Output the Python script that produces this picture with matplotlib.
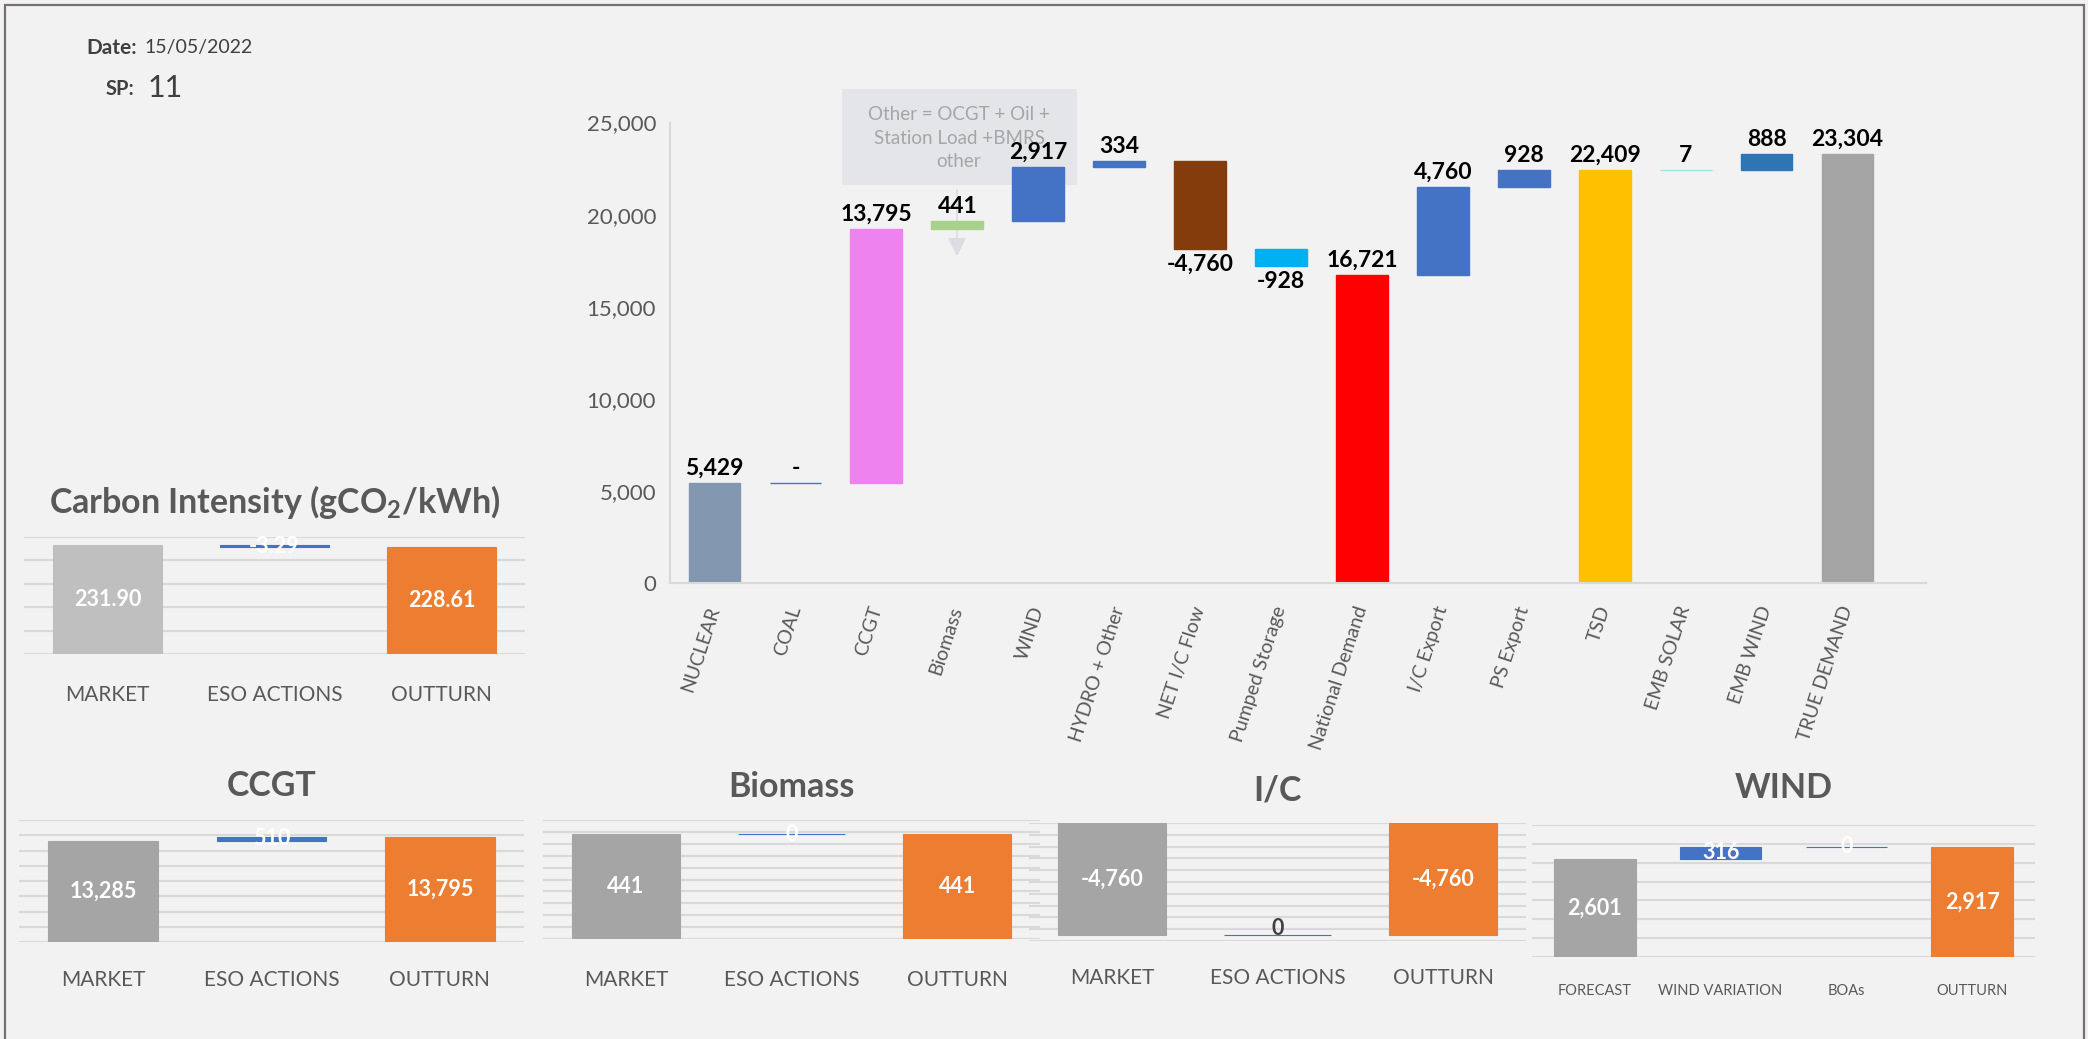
import numpy as np
import matplotlib
matplotlib.use('Agg')
from matplotlib import pyplot as plt
from matplotlib.patches import Rectangle, FancyArrowPatch

plt.rcParams['font.family'] = ['Lato', 'DejaVu Sans']
plt.rcParams['mathtext.default'] = 'regular'

# Datos del waterfall principal (MW)
wf_cats = ['NUCLEAR', 'COAL', 'CCGT', 'Biomass', 'WIND', 'HYDRO + Other', 'NET I/C Flow',
           'Pumped Storage', 'National Demand', 'I/C Export', 'PS Export', 'TSD',
           'EMB SOLAR', 'EMB WIND', 'TRUE DEMAND']
wf_values = [5429, 0, 13795, 441, 2917, 334, -4760, -928, 16721, 4760, 928, 22409, 7, 888, 23304]
wf_totals = ['National Demand', 'TSD', 'TRUE DEMAND']
wf_colors = ['#8497B0', '#4472C4', '#EE82EE', '#A9D18E', '#4472C4', '#4472C4', '#843C0C',
             '#00B0F0', '#FF0000', '#4472C4', '#4472C4', '#FFC000', '#99E6E6', '#2E75B6', '#A5A5A5']

# Paneles pequenos
eso_cats = ['MARKET', 'ESO ACTIONS', 'OUTTURN']
carbon_values = [231.90, -3.29, 228.61]
ccgt_values = [13285, 510, 13795]
biomass_values = [441, 0, 441]
ic_values = [-4760, 0, -4760]
wind_cats = ['FORECAST', 'WIND VARIATION', 'BOAs', 'OUTTURN']
wind_values = [2601, 316, 0, 2917]

date_str = '15/05/2022'
sp_str = '11'

W, H = 2088, 1039
fig = plt.figure(figsize=(W / 100, H / 100), dpi=100, facecolor='#F2F2F2')
GREY_TXT = '#595959'


def px_axes(x0, y0, x1, y1):
    # ejes en coordenadas de pixel (origen arriba a la izquierda)
    return fig.add_axes([x0 / W, 1 - y1 / H, (x1 - x0) / W, (y1 - y0) / H])


# marco
fig.patches.append(Rectangle((5 / W, -0.02), (2084 - 5) / W, 1.02 - 5 / H, transform=fig.transFigure,
                             fill=False, edgecolor='#767171', linewidth=1.6))

# Fecha y SP
fig.text(137 / W, 1 - 48 / H, 'Date:', ha='right', va='center', fontsize=15, fontweight='bold', color='#404040')
fig.text(144 / W, 1 - 48 / H, date_str, ha='left', va='center', fontsize=14, color='#404040')
fig.text(134 / W, 1 - 89 / H, 'SP:', ha='right', va='center', fontsize=14.5, fontweight='bold', color='#404040')
fig.text(148 / W, 1 - 88 / H, sp_str, ha='left', va='center', fontsize=22, color='#404040')

# ---------------- waterfall principal ----------------
ax = px_axes(670, 122.5, 1926, 583)
ax.set_facecolor('none')
x = np.arange(len(wf_cats))
running = 0
bottoms = []
heights = []
for cat, v in zip(wf_cats, wf_values):
    if cat in wf_totals:
        bottoms.append(0)
        running = v
    else:
        bottoms.append(running)
        running += v
    heights.append(v)

ax.bar(x, heights, bottom=bottoms, width=0.64, color=wf_colors, edgecolor=wf_colors, linewidth=1, zorder=2)

for i, (b, h, v) in enumerate(zip(bottoms, heights, wf_values)):
    txt = '-' if v == 0 else f'{v:,}'
    if v < 0:
        ax.annotate(txt, (i, b + h), xytext=(0, -4), textcoords='offset points', ha='center', va='top',
                    fontsize=16.5, fontweight='bold', color='black', zorder=4)
    else:
        ax.annotate(txt, (i, b + h), xytext=(0, 3), textcoords='offset points', ha='center', va='bottom',
                    fontsize=16.5, fontweight='bold', color='black', zorder=4)

ax.set_xlim(-0.55, 14.97)
ax.set_ylim(0, 25000)
ax.set_yticks(np.arange(0, 25001, 5000))
ax.set_yticklabels([f'{t:,}' for t in range(0, 25001, 5000)], fontsize=16, color=GREY_TXT)
ax.set_xticks(x)
ax.set_xticklabels(wf_cats, rotation=72, ha='right', va='center', rotation_mode='anchor',
                   fontsize=14, color=GREY_TXT)
ax.tick_params(axis='y', length=0, pad=10)
ax.tick_params(axis='x', length=0, pad=17)
for s in ['top', 'right']:
    ax.spines[s].set_visible(False)
for s in ['left', 'bottom']:
    ax.spines[s].set_color('#D9D9D9')
    ax.spines[s].set_linewidth(1.5)

# caja de nota "Other" y flecha
ax.add_patch(Rectangle((842 / W, 1 - 185 / H), (1077 - 842) / W, (185 - 89) / H, transform=fig.transFigure,
                       facecolor='#E4E5E9', edgecolor='none', zorder=1, clip_on=False))
ax.text(959 / W, 1 - 138 / H, 'Other = OCGT + Oil +\nStation Load +BMRS\nother', transform=fig.transFigure,
        ha='center', va='center', fontsize=13.5, color='#A6A6A6', linespacing=1.45, zorder=1.5)
ax.add_patch(FancyArrowPatch((957 / W, 1 - 187 / H), (957 / W, 1 - 259 / H), transform=fig.transFigure,
                             arrowstyle='-|>', mutation_scale=28, color='#DCDDE2', linewidth=1.2,
                             zorder=1, clip_on=False))


# ---------------- paneles pequenos ----------------
def panel(rect, title, title_y, cats, vals, ylim, step, fmt, first_color='#A5A5A5',
          label_size=15, label_gap=34, dark_zero=False):
    pax = px_axes(*rect)
    pax.set_facecolor('none')
    n = len(vals)
    px = np.arange(n)
    bots = []
    hts = []
    cols = []
    run = vals[0]
    for i, v in enumerate(vals):
        if i == 0:
            bots.append(0)
            cols.append(first_color)
        elif i == n - 1:
            bots.append(0)
            cols.append('#ED7D31')
        else:
            bots.append(run)
            run += v
            cols.append('#4472C4')
        hts.append(v)
    pax.bar(px, hts, bottom=bots, width=0.65, color=cols, edgecolor=cols, linewidth=0.8, zorder=2)
    for i, (b, h, v) in enumerate(zip(bots, hts, vals)):
        if dark_zero and v == 0:
            pax.text(i, b + h, fmt(v), ha='center', va='baseline', fontsize=15.5, fontweight='bold',
                     color='#404040', zorder=3)
        else:
            pax.text(i, b + h / 2, fmt(v), ha='center', va='center', fontsize=15.5, fontweight='bold',
                     color='white', zorder=3)
    pax.set_xlim(-0.5, n - 0.5)
    pax.set_ylim(*ylim)
    pax.set_yticks(np.arange(ylim[0], ylim[1] + step / 2, step))
    pax.yaxis.grid(True, color='#D9D9D9', linewidth=1.5)
    pax.set_axisbelow(True)
    for s in pax.spines.values():
        s.set_visible(False)
    pax.tick_params(left=False, labelleft=False, bottom=False, pad=label_gap * 0.72)
    pax.set_xticks(px)
    pax.set_xticklabels(cats, fontsize=label_size, color=GREY_TXT)
    plt.setp(pax.get_xticklabels(), va='center')
    xc = (rect[0] + rect[2]) / 2
    fig.text(xc / W, 1 - title_y / H, title, ha='center', va='center', fontsize=24.5,
             fontweight='bold', color=GREY_TXT)
    return pax


panel((24, 537, 525, 654), r'Carbon Intensity (gCO$_2$/kWh)', 502, eso_cats, carbon_values,
      (0, 250), 50, lambda v: f'{v:.2f}', first_color='#BFBFBF', label_gap=36)
panel((19, 820, 524, 942), 'CCGT', 786, eso_cats, ccgt_values,
      (0, 16000), 2000, lambda v: f'{v:,.0f}', label_gap=33)
panel((543, 820, 1040, 939), 'Biomass', 787, eso_cats, biomass_values,
      (0, 500), 50, lambda v: f'{v:,.0f}', label_gap=36)
panel((1029, 823, 1526, 941), 'I/C', 790, eso_cats, ic_values,
      (-5000, 0), 500, lambda v: f'{v:,.0f}', label_gap=32, dark_zero=True)
panel((1532, 825, 2035, 957), 'WIND', 788, wind_cats, wind_values,
      (0, 3500), 500, lambda v: f'{v:,.0f}', label_size=10.5, label_gap=29)

plt.savefig('out.png', dpi=100, facecolor=fig.get_facecolor())
